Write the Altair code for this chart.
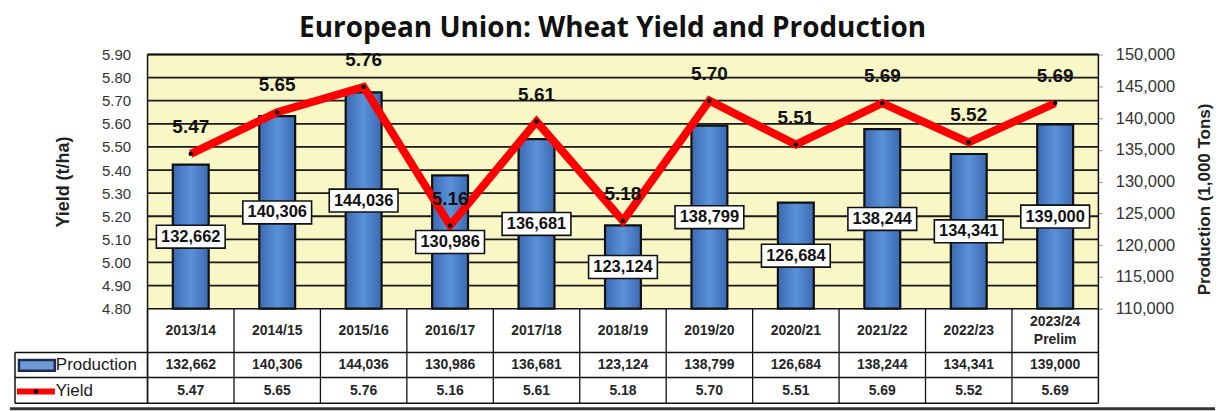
import altair as alt
import pandas as pd

# ---------------- data ----------------
seasons = ["2013/14", "2014/15", "2015/16", "2016/17", "2017/18", "2018/19",
           "2019/20", "2020/21", "2021/22", "2022/23", "2023/24"]
season_notes = ["", "", "", "", "", "", "", "", "", "", "Prelim"]
production = [132662, 140306, 144036, 130986, 136681, 123124,
              138799, 126684, 138244, 134341, 139000]
yields = [5.47, 5.65, 5.76, 5.16, 5.61, 5.18, 5.70, 5.51, 5.69, 5.52, 5.69]
yield_ticks = [4.8, 4.9, 5.0, 5.1, 5.2, 5.3, 5.4, 5.5, 5.6, 5.7, 5.8, 5.9]
production_ticks = [110000, 115000, 120000, 125000, 130000, 135000, 140000, 145000, 150000]
grid_values = [4.9, 5.0, 5.1, 5.2, 5.3, 5.4, 5.5, 5.6, 5.7, 5.8, 5.9]
legend_rows = ["Production", "Yield"]

# ---------------- layout constants ----------------
W, H = 954, 350
PLOT_H = 255
ROW1, ROW2, BOTTOM = 299, 324, 350
HDR_Y, PROD_Y, YLD_Y = 277, 312, 338
LEG_X = -133
FONT = "Liberation Sans"
YELLOW = "#FAF7C6"
BLUE = "#4A7EC0"
TABLE_TXT = "#262626"

df = pd.DataFrame({"season": seasons, "note": season_notes,
                   "production": production, "yield": yields})
one = pd.DataFrame({"k": [0]})

xscale = alt.Scale(paddingInner=0, paddingOuter=0)
xenc = alt.X("season:N", sort=seasons, scale=xscale, axis=None)
ys = alt.Scale(domain=[4.8, 5.9], range=[PLOT_H, 0], nice=False, zero=False)
ps = alt.Scale(domain=[110000, 150000], range=[PLOT_H, 0], nice=False, zero=False)

base = alt.Chart(df)

background = alt.Chart(one).mark_rect(fill=YELLOW).encode(
    x=alt.value(0), x2=alt.value(W), y=alt.value(0), y2=alt.value(PLOT_H))

grid = alt.Chart(pd.DataFrame({"g": grid_values})).mark_rule(
    color="#1a1a1a", strokeWidth=1.8).encode(
    y=alt.Y("g:Q", scale=ys, axis=None), x=alt.value(0), x2=alt.value(W))

bar_fill = alt.Gradient(
    gradient="linear", x1=0, x2=1, y1=0, y2=0,
    stops=[alt.GradientStop(color="#3B69B0", offset=0),
           alt.GradientStop(color="#5A92DA", offset=0.5),
           alt.GradientStop(color="#3B69B0", offset=1)])

bars = base.mark_bar(size=36, color=bar_fill, stroke="#111111", strokeWidth=2.2).encode(
    x=xenc,
    y=alt.Y("production:Q", scale=ps,
            axis=alt.Axis(orient="right", values=production_ticks, format=",.0f",
                          title="Production (1,000 Tons)", titleAngle=270,
                          titleFont=FONT, titleFontSize=17, titleFontWeight="bold",
                          titleColor="#222", titlePadding=39, titleY=145,
                          labelFont=FONT, labelFontSize=16.5, labelColor="#333",
                          tickSize=4, tickColor="#999", labelPadding=13,
                          domain=False, grid=False)),
    y2=alt.datum(110000))

line = base.mark_line(color="#FF0000", strokeWidth=8).encode(
    x=xenc,
    y=alt.Y("yield:Q", scale=ys,
            axis=alt.Axis(orient="left", values=yield_ticks, format=".2f",
                          title="Yield (t/ha)", titleFont=FONT, titleFontSize=18,
                          titleFontWeight="bold", titleColor="#222", titlePadding=29,
                          labelFont=FONT, labelFontSize=15, labelColor="#333",
                          ticks=False, labelPadding=17, domain=False, grid=False)))

dots = base.mark_point(filled=True, color="black", size=20, opacity=1).encode(
    x=xenc, y=alt.Y("yield:Q", scale=ys, axis=None))

box_shape = "M-1,-0.333L1,-0.333L1,0.333L-1,0.333Z"
mid = base.transform_calculate(mid="(datum.production + 110000) / 2")
boxes = mid.mark_point(shape=box_shape, size=4761, filled=True, fill="white",
                       stroke="#111", strokeWidth=1.6, opacity=1).encode(
    x=xenc, y=alt.Y("mid:Q", scale=ps, axis=None))
box_text = mid.mark_text(font=FONT, fontSize=16.5, fontWeight="bold", color="#111").encode(
    x=xenc, y=alt.Y("mid:Q", scale=ps, axis=None),
    text=alt.Text("production:Q", format=","))

yield_text = base.mark_text(font=FONT, fontSize=19, fontWeight="bold", color="#111",
                            dy=-27).encode(
    x=xenc, y=alt.Y("yield:Q", scale=ys, axis=None),
    text=alt.Text("yield:Q", format=".2f"))

# ---------------- data table ----------------
vlines = base.mark_rule(color="#111", strokeWidth=1.3).encode(
    x=alt.X("season:N", sort=seasons, bandPosition=0, scale=xscale, axis=None),
    y=alt.value(PLOT_H), y2=alt.value(BOTTOM))

frame_df = pd.DataFrame({"x": [0, W, LEG_X], "y": [0, 0, ROW1]})
frame_v = alt.Chart(frame_df).mark_rule(color="#111", strokeWidth=1.5).encode(
    x=alt.X("x:Q", scale=None), y=alt.Y("y:Q", scale=None), y2=alt.value(BOTTOM))

hl_df = pd.DataFrame({"x": [0, LEG_X, LEG_X, LEG_X], "x2": [W, W, W, W],
                      "y": [0, ROW1, ROW2, BOTTOM]})
frame_h = alt.Chart(hl_df).mark_rule(color="#111", strokeWidth=1.5).encode(
    x=alt.X("x:Q", scale=None), x2="x2:Q", y=alt.Y("y:Q", scale=None))
plot_bottom = alt.Chart(one).mark_rule(color="#111", strokeWidth=1.5).encode(
    x=alt.value(0), x2=alt.value(W), y=alt.value(PLOT_H))

tstyle = dict(font=FONT, fontSize=14, fontWeight="bold", color=TABLE_TXT)
single = base.transform_filter("datum.note == ''")
double = base.transform_filter("datum.note != ''")
hdr_text = single.mark_text(**tstyle).encode(
    x=xenc, y=alt.value(HDR_Y), text="season:N")
hdr_text2 = double.mark_text(dy=-9, **tstyle).encode(
    x=xenc, y=alt.value(HDR_Y), text="season:N")
hdr_note = double.mark_text(dy=9, **tstyle).encode(
    x=xenc, y=alt.value(HDR_Y), text="note:N")
prod_text = base.mark_text(**tstyle).encode(
    x=xenc, y=alt.value(PROD_Y), text=alt.Text("production:Q", format=","))
yld_text = base.mark_text(**tstyle).encode(
    x=xenc, y=alt.value(YLD_Y), text=alt.Text("yield:Q", format=".2f"))

leg_df = pd.DataFrame({"name": legend_rows, "y": [PROD_Y, YLD_Y]})
leg_text = alt.Chart(leg_df).mark_text(font=FONT, fontSize=17, color="#1a1a1a",
                                       align="left").encode(
    x=alt.value(-92), y=alt.Y("y:Q", scale=None), text="name:N")
leg_bar = alt.Chart(one).mark_point(shape="M-1,-0.3L1,-0.3L1,0.3L-1,0.3Z", size=1296,
                                    filled=True, fill="#6E9BD5", stroke="#1b2a55",
                                    strokeWidth=2.5, opacity=1).encode(
    x=alt.value(-111), y=alt.value(PROD_Y))
leg_line = alt.Chart(one).mark_rule(color="#FF0000", strokeWidth=6).encode(
    x=alt.value(-131), x2=alt.value(-93), y=alt.value(YLD_Y))
leg_dot = alt.Chart(one).mark_point(filled=True, color="black", size=20, opacity=1).encode(
    x=alt.value(-112), y=alt.value(YLD_Y))

bottom_bar = alt.Chart(one).mark_rule(color="#333", strokeWidth=3).encode(
    x=alt.value(-138), x2=alt.value(W + 117), y=alt.value(BOTTOM + 5.5))

chart = alt.layer(
    background, grid, bars, line, dots, boxes, box_text, yield_text,
    plot_bottom, vlines, frame_v, frame_h, hdr_text, hdr_text2, hdr_note,
    prod_text, yld_text, leg_bar, leg_line, leg_dot, leg_text, bottom_bar
).resolve_scale(y="independent").properties(
    width=W, height=H,
    padding={"left": 0, "top": 6, "right": 0, "bottom": 0},
    title=alt.TitleParams("European Union: Wheat Yield and Production",
                          font="Open Sans", fontSize=28, fontWeight="bold",
                          color="#111", anchor="middle", frame="bounds", offset=4)
).configure_view(stroke=None)

chart.save("out.html", embed_options={"renderer": "svg", "actions": False})
